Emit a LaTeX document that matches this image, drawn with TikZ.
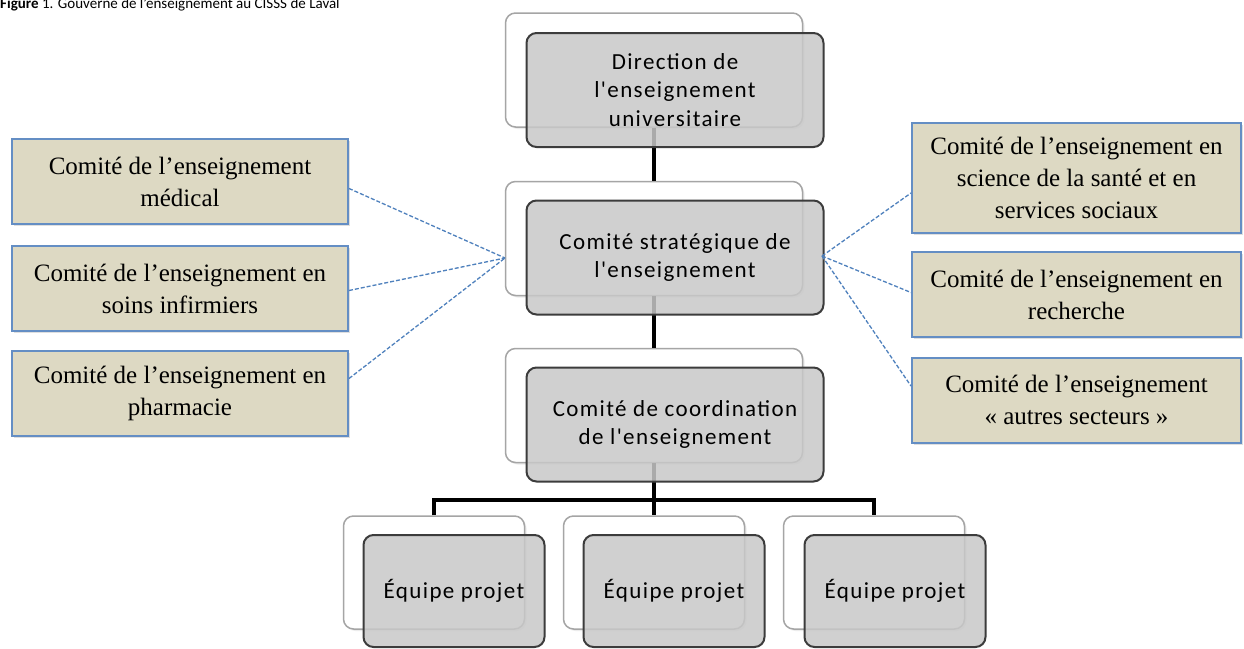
\documentclass[tikz,border=0pt]{standalone}
\usepackage{fontspec}
\setmainfont{Liberation Serif}
\newfontfamily\grfont{Carlito}[Ligatures=TeXOff, LetterSpace=6]
\newfontfamily\titlefont{Carlito}
\usetikzlibrary{shadows}
\definecolor{tanfill}{RGB}{221,217,195}
\definecolor{tanline}{RGB}{100,142,196}
\definecolor{dashblue}{RGB}{79,129,189}
\definecolor{frontfill}{RGB}{200,200,200}
\definecolor{frontline}{RGB}{60,60,60}
\definecolor{backline}{RGB}{165,165,165}
\begin{document}
\begin{tikzpicture}[x=1pt,y=-1pt,
  backbox/.style={draw=backline, line width=1.5pt, fill=white, rounded corners=10pt,
    minimum width=297pt, minimum height=114pt, inner sep=0pt,
    drop shadow={shadow xshift=2pt, shadow yshift=-2pt, opacity=0.15}},
  smallback/.style={backbox, minimum width=181pt, minimum height=113pt},
  frontbox/.style={draw=frontline, line width=2pt, fill=frontfill, fill opacity=0.85,
    text opacity=1, rounded corners=10pt, minimum width=297pt, minimum height=114pt,
    inner sep=0pt, align=center, font=\grfont\fontsize{23}{28.5}\selectfont},
  smallfront/.style={frontbox, minimum width=181pt, minimum height=112pt},
  tanbox/.style={draw=tanline, line width=2pt, fill=tanfill, minimum width=336pt,
    minimum height=85pt, inner sep=0pt, align=center,
    font=\fontsize{25}{32}\selectfont,
    drop shadow={shadow xshift=2pt, shadow yshift=-2pt, opacity=0.25}},
  tanboxr/.style={tanbox, minimum width=329pt},
  link/.style={line width=4pt, draw=black},
  dlink/.style={draw=dashblue, line width=1.3pt, dash pattern=on 4pt off 2pt}
]
\useasboundingbox (0,0) rectangle (1244,648);
\clip (0,0) rectangle (1244,648);
\fill[white] (0,0) rectangle (1244,648);

% title (cut off at top, as in the reference)
\node[anchor=base west, inner sep=0pt, font=\titlefont\fontsize{15}{18}\selectfont] (title) at (0,8)
  {\textbf{Figure} 1. Gouverne de l’enseignement au CISSS de Laval};

% back boxes
\node[backbox] (btop) at (654,70) {};
\node[backbox] (bmid) at (654,238.5) {};
\node[backbox] (bco) at (654,405.5) {};
\node[smallback] (bp1) at (434,572.5) {};
\node[smallback] (bp2) at (654,572.5) {};
\node[smallback] (bp3) at (874,572.5) {};

% hierarchy connectors
\coordinate (bus) at (654,500);
\draw[link] (btop.south) -- (bmid.north);
\draw[link] (bmid.south) -- (bco.north);
\draw[link] (bco.south) -- (bp2.north);
\draw[link] (bp1.north) |- (bus) -| (bp3.north);

% front boxes
\node[frontbox] (ftop) at (675,90) {Direction de\\l'enseignement\\universitaire};
\node[frontbox] (fmid) at (675,257.5) {Comité stratégique de\\l'enseignement};
\node[frontbox] (fco) at (675,424.5) {Comité de coordination\\de l'enseignement};
\node[smallfront] (fp1) at (454,591) {Équipe projet};
\node[smallfront] (fp2) at (674,591) {Équipe projet};
\node[smallfront] (fp3) at (895,591) {Équipe projet};

% left committees
\node[tanbox] (l1) at (180,181.5) {Comité de l’enseignement\\médical};
\node[tanbox] (l2) at (180,288.5) {Comité de l’enseignement en\\soins infirmiers};
\node[tanbox] (l3) at (180,393.5) {Comité de l’enseignement en\\pharmacie};

% right committees
\node[tanboxr, minimum height=110pt] (r1) at (1076.5,178) {Comité de l’enseignement en\\science de la santé et en\\services sociaux};
\node[tanboxr] (r2) at (1076.5,294.5) {Comité de l’enseignement en\\recherche};
\node[tanboxr] (r3) at (1076.5,400) {Comité de l’enseignement\\«~autres secteurs~»};

% dashed links
\coordinate (jl) at (505,258);
\coordinate (jr) at (822,256);
\draw[dlink] ([yshift=-7pt]l1.east) -- (jl);
\draw[dlink] ([yshift=-2pt]l2.east) -- (jl);
\draw[dlink] ([yshift=15pt]l3.east) -- (jl);
\draw[dlink] (jr) -- ([yshift=-15pt]r1.west);
\draw[dlink] (jr) -- ([yshift=2pt]r2.west);
\draw[dlink] (jr) -- ([yshift=14pt]r3.west);
\end{tikzpicture}
\end{document}
